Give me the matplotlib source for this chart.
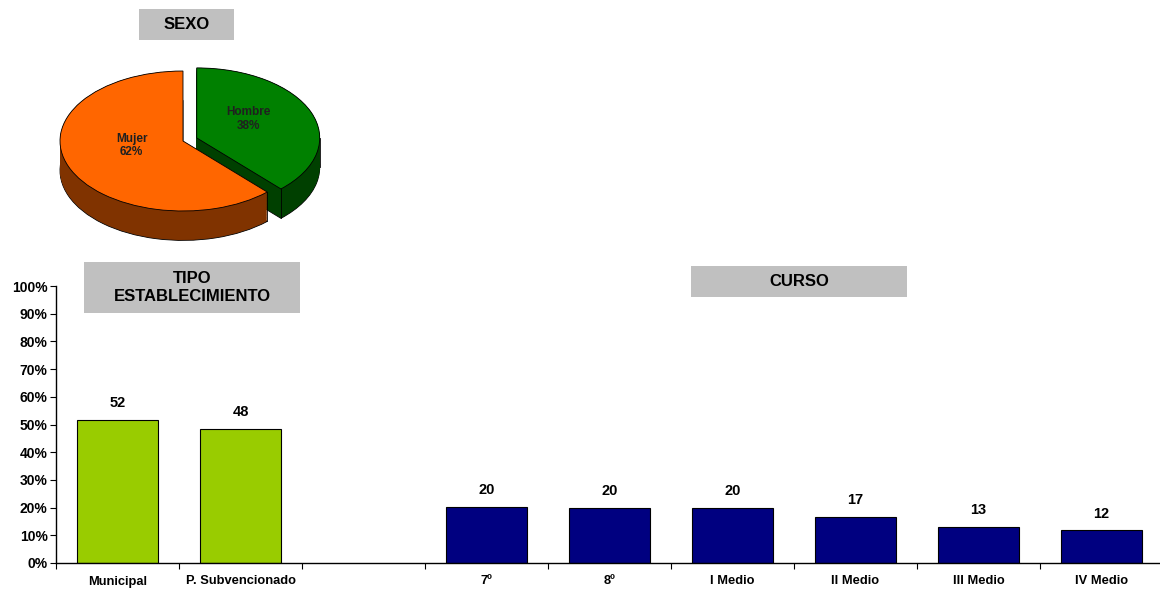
import numpy as np
import matplotlib
matplotlib.use("Agg")
import matplotlib.pyplot as plt
from matplotlib.patches import Rectangle

plt.rcParams['font.family'] = ['Liberation Sans', 'DejaVu Sans']
plt.rcParams['font.weight'] = 'bold'

# datos
sexo_labels = ["Hombre", "Mujer"]
sexo_values = [38, 62]

tipo_labels = ["Municipal", "P. Subvencionado"]
tipo_values = [51.6, 48.4]

curso_labels = ["7º", "8º", "I Medio", "II Medio", "III Medio", "IV Medio"]
curso_values = [20.3, 19.8, 19.8, 16.7, 13.0, 11.8]

W, H = 1160, 590
fig = plt.figure(figsize=(W / 100, H / 100), dpi=100)


def px_axes(x0, y0, x1, y1):
    # caja en pixeles (y desde arriba)
    return fig.add_axes([x0 / W, 1 - y1 / H, (x1 - x0) / W, (y1 - y0) / H])


def caja(x0, y0, x1, y1, texto, size=12):
    fig.add_artist(Rectangle((x0 / W, 1 - y1 / H), (x1 - x0) / W, (y1 - y0) / H,
                             transform=fig.transFigure, facecolor="#C0C0C0",
                             edgecolor="none"))
    fig.text((x0 + x1) / 2 / W, 1 - (y0 + y1) / 2 / H, texto, ha="center",
             va="center", fontsize=size, fontweight="bold", linespacing=1.25)


# ---- torta SEXO ----
ax_p = px_axes(40, 50, 340, 250)
cx, cy, rx, ry = 183, 141, 123, 70
top_cols = ["#008000", "#FF6600"]
side_cols = ["#004000", "#803300"]
explode = [0.12, 0]
depth = 0.42
for i, off in enumerate(np.linspace(-depth, 0, 40)):
    last = i == 0
    ax_p.pie(sexo_values, colors=side_cols, startangle=90, counterclock=False,
             explode=explode, center=(0, off), frame=True,
             wedgeprops=dict(edgecolor="black" if last else "none",
                             linewidth=0.6 if last else 0))
nombres = iter(sexo_labels)
wedges, texts, autotexts = ax_p.pie(
    sexo_values, colors=top_cols, startangle=90, counterclock=False,
    explode=explode, frame=True,
    autopct=lambda p: f"{next(nombres)}\n{p:.0f}%", pctdistance=0.45,
    wedgeprops=dict(edgecolor="black", linewidth=0.6),
    textprops=dict(fontsize=8.5, fontweight="bold", color="#202020"))
for t in autotexts:
    t.set_y(t.get_position()[1] + 0.1)

# aristas verticales visibles
for w in wedges:
    c = w.center
    angs = [w.theta1, w.theta2] + [a for a in (0, 180, 360)
                                   if w.theta1 < a < w.theta2]
    for a in angs:
        x = c[0] + w.r * np.cos(np.radians(a))
        y = c[1] + w.r * np.sin(np.radians(a))
        if np.sin(np.radians(a)) <= 0.01:
            ax_p.plot([x, x], [y, y - depth], color="black", lw=0.6, zorder=5)

ax_p.set_aspect("auto")
ax_p.set_xlim((40 - cx) / rx, (340 - cx) / rx)
ax_p.set_ylim((cy - 250) / ry, (cy - 50) / ry)
ax_p.axis("off")

caja(139, 9, 234, 40, "SEXO")

# ---- barras ----
ax = px_axes(56, 286, 1163, 563)
pos_tipo = np.arange(len(tipo_labels))
pos_curso = np.arange(len(curso_labels)) + len(tipo_labels) + 1

b1 = ax.bar(pos_tipo, tipo_values, width=0.66, color="#99CC00",
            edgecolor="black", linewidth=0.8)
b2 = ax.bar(pos_curso, curso_values, width=0.66, color="#000080",
            edgecolor="black", linewidth=0.8)
for barras, vals in [(b1, tipo_values), (b2, curso_values)]:
    for r, v in zip(barras, vals):
        ax.annotate(f"{round(v)}", (r.get_x() + r.get_width() / 2, r.get_height()),
                    xytext=(0, 7), textcoords="offset points", ha="center",
                    va="bottom", fontsize=10.5, fontweight="bold")

n = len(tipo_labels) + 1 + len(curso_labels)
ax.set_xlim(-0.5, n - 0.5)
ax.set_ylim(0, 100)
ax.set_yticks(range(0, 101, 10))
ax.set_yticklabels([f"{v}%" for v in range(0, 101, 10)], fontsize=10,
                   fontweight="bold")
ax.set_xticks(np.arange(n) - 0.5)
ax.set_xticklabels([])
ax.set_xticks(list(pos_tipo) + list(pos_curso), minor=True)
ax.set_xticklabels(tipo_labels + curso_labels, minor=True, fontsize=9.3,
                   fontweight="bold")
ax.tick_params(axis="x", which="major", direction="out", length=4, width=0.8)
ax.tick_params(axis="x", which="minor", length=0, pad=9)
ax.tick_params(axis="y", direction="out", length=4, width=0.8, pad=2)
for s in ["top", "right"]:
    ax.spines[s].set_visible(False)
for s in ["left", "bottom"]:
    ax.spines[s].set_linewidth(1.0)

caja(84, 262, 300, 313, "TIPO\nESTABLECIMIENTO")
caja(691, 266, 907, 297, "CURSO")

fig.savefig("out.png", dpi=100)
